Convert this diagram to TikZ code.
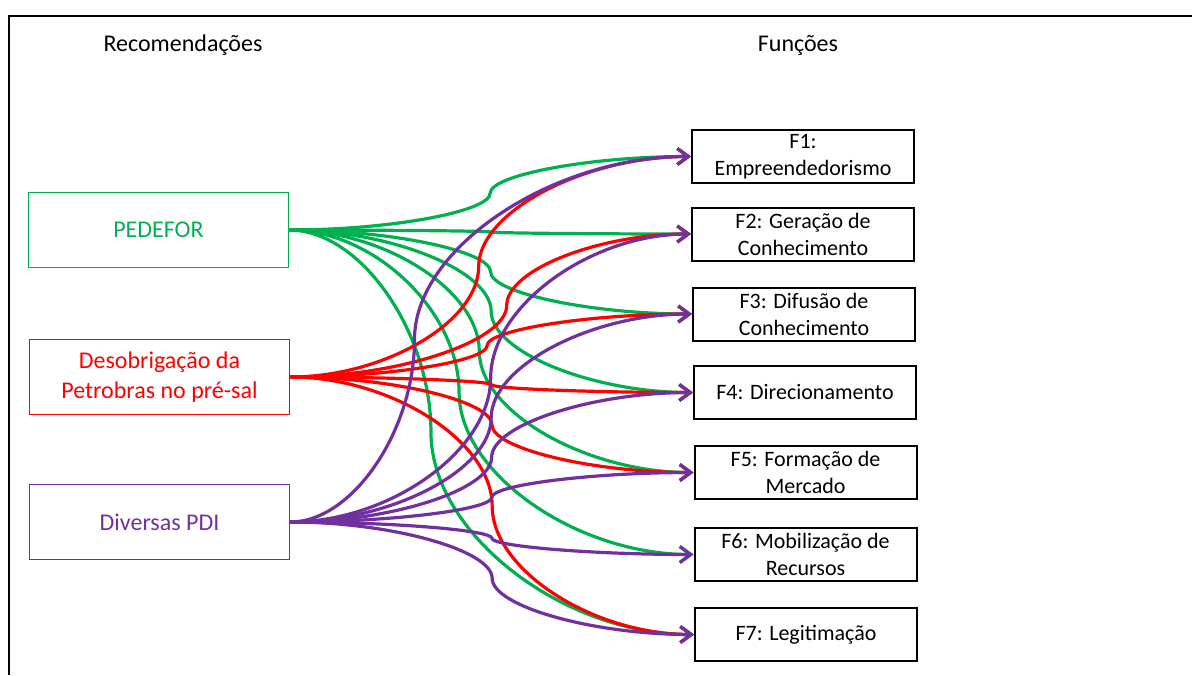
\documentclass[tikz,border=0pt]{standalone}
\usepackage{fontspec}
\setmainfont{Carlito}
\usetikzlibrary{arrows.meta,calc}
\definecolor{recgreen}{RGB}{0,176,80}
\definecolor{recred}{RGB}{255,0,0}
\definecolor{recpurple}{RGB}{112,48,160}

\tikzset{
  recbox/.style={draw=#1, text=#1, line width=0.8pt, inner sep=0pt,
    minimum width=130pt, minimum height=37.5pt, align=center,
    font=\fontsize{12}{15}\selectfont},
  funbox/.style={draw=black, line width=1pt, inner sep=0pt,
    minimum width=111pt, minimum height=26.5pt, align=center,
    font=\fontsize{11}{13.5}\selectfont},
  link/.style={draw=#1, line width=1.6pt,
    -{Straight Barb[length=5.5pt,width=8pt,line width=1.6pt]}},
  % office-like curved connector: two halves meeting at the bend
  conn/.style={to path={
    let \p1=(\tikztostart), \p2=(\tikztotarget),
        \p3=($(\tikztostart)!#1!(\tikztotarget)$) in
    .. controls ({0.5*\x1+0.5*\x3},\y1) and (\x3,{0.75*\y1+0.25*\y2})
    .. (\x3,{0.5*\y1+0.5*\y2})
    .. controls (\x3,{0.25*\y1+0.75*\y2}) and ({0.5*\x3+0.5*\x2},\y2)
    .. (\tikztotarget)}},
  conn/.default=0.5
}

\begin{document}
\begin{tikzpicture}[x=0.5pt, y=-0.5pt, font=\fontsize{12}{15}\selectfont]
\useasboundingbox (0,0) rectangle (1192,675);

%% ── Frame ────────────────────────────────────────────────────────────────────
\draw[line width=1pt] (1192,16) -- (8.5,16) -- (8.5,675);

%% ── Column titles ────────────────────────────────────────────────────────────
\node (trec) at (183,45) {Recomendações};
\node (tfun) at (798,45) {Funções};

%% ── Recommendations ──────────────────────────────────────────────────────────
\node[recbox=recgreen]  (ped) at (158.5,230) {PEDEFOR};
\node[recbox=recred]    (des) at (159.5,377) {Desobrigação da\\Petrobras no pré-sal};
\node[recbox=recpurple] (div) at (159.5,522) {Diversas PDI};

%% ── Functions ────────────────────────────────────────────────────────────────
\node[funbox] (f1) at (803,156.5)   {F1:\\Empreendedorismo};
\node[funbox] (f2) at (803,234)     {F2: Geração de\\Conhecimento};
\node[funbox] (f3) at (804,314)     {F3: Difusão de\\Conhecimento};
\node[funbox] (f4) at (805,392.5)   {F4: Direcionamento};
\node[funbox] (f5) at (805.5,472.5) {F5: Formação de\\Mercado};
\node[funbox] (f6) at (805.5,554.5) {F6: Mobilização de\\Recursos};
\node[funbox] (f7) at (806,634.5)   {F7: Legitimação};

%% ── Links ────────────────────────────────────────────────────────────────────
\foreach \f/\m in {f1/0.5,f2/0.5,f3/0.5,f4/0.5,f5/0.47,f6/0.42,f7/0.35}
  \draw[link=recgreen] (ped.east) to[conn=\m] (\f.west);
\foreach \f/\m in {f1/0.47,f2/0.54,f3/0.49,f4/0.5,f5/0.5,f7/0.5}
  \draw[link=recred] (des.east) to[conn=\m] (\f.west);
\foreach \f/\m in {f1/0.31,f2/0.5,f3/0.5,f4/0.5,f5/0.5,f6/0.5,f7/0.5}
  \draw[link=recpurple] (div.east) to[conn=\m] (\f.west);

\end{tikzpicture}
\end{document}
